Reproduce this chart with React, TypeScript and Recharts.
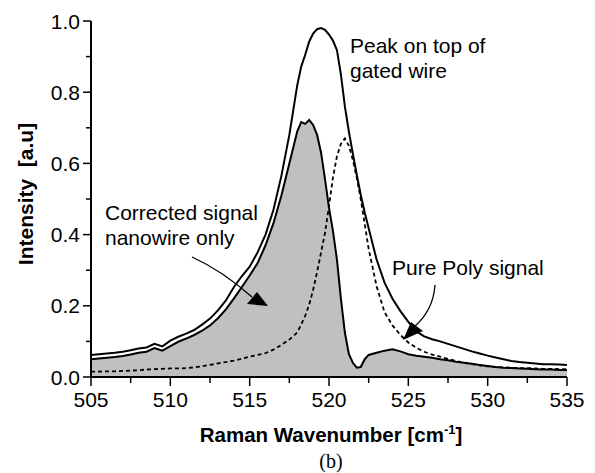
import React from 'react'
import { ComposedChart, Area, Line, XAxis, YAxis, Label } from 'recharts'

const wavenumber = [
  505, 505.5, 506, 506.5, 507, 507.5, 508, 508.5, 509, 509.5, 510, 510.5, 511, 511.5, 512, 512.5,
  513, 513.5, 514, 514.5, 515, 515.5, 516, 516.5, 517, 517.5, 518,
  518.25, 518.5, 518.75, 519, 519.25, 519.5, 519.75, 520, 520.25, 520.5, 520.75, 521, 521.25,
  521.5, 521.75, 522, 522.25, 522.5,
  523, 523.5, 524, 524.5, 525, 525.5, 526, 526.5, 527, 527.5, 528, 528.5, 529, 529.5, 530,
  530.5, 531, 531.5, 532, 532.5, 533, 533.5, 534, 534.5, 535,
]

// peak on top of gated wire
const gatedWire = [
  0.062, 0.064, 0.066, 0.068, 0.071, 0.075, 0.08, 0.083, 0.093, 0.086, 0.102, 0.113, 0.122, 0.132, 0.147, 0.164,
  0.187, 0.215, 0.252, 0.283, 0.31, 0.35, 0.4, 0.47, 0.565, 0.68, 0.82,
  0.872, 0.905, 0.942, 0.965, 0.977, 0.98, 0.975, 0.962, 0.945, 0.918, 0.85, 0.76, 0.69,
  0.628, 0.568, 0.512, 0.462, 0.418,
  0.33, 0.265, 0.22, 0.185, 0.155, 0.128, 0.114, 0.106, 0.1, 0.093, 0.086, 0.079, 0.072, 0.066, 0.06,
  0.055, 0.05, 0.045, 0.042, 0.04, 0.038, 0.036, 0.036, 0.035, 0.034,
]

// corrected signal, nanowire only
const nanowire = [
  0.05, 0.052, 0.054, 0.056, 0.059, 0.063, 0.068, 0.071, 0.081, 0.074, 0.087, 0.099, 0.108, 0.118, 0.13, 0.145,
  0.165, 0.19, 0.22, 0.252, 0.285, 0.32, 0.37, 0.432, 0.51, 0.6, 0.69,
  0.716, 0.711, 0.722, 0.708, 0.68, 0.63, 0.555, 0.475, 0.41, 0.33, 0.22, 0.125, 0.065,
  0.04, 0.026, 0.028, 0.05, 0.062,
  0.068, 0.074, 0.078, 0.072, 0.064, 0.06, 0.057, 0.054, 0.05, 0.047, 0.043, 0.04, 0.037, 0.034, 0.031,
  0.028, 0.026, 0.025, 0.024, 0.023, 0.022, 0.021, 0.021, 0.02, 0.02,
]

// pure poly signal
const purePoly = [
  0.015, 0.015, 0.016, 0.016, 0.017, 0.018, 0.019, 0.021, 0.022, 0.023, 0.024, 0.024, 0.025, 0.027, 0.03, 0.034,
  0.038, 0.042, 0.046, 0.051, 0.057, 0.062, 0.067, 0.077, 0.09, 0.105, 0.125,
  0.148, 0.172, 0.203, 0.245, 0.295, 0.35, 0.405, 0.48, 0.56, 0.62, 0.655, 0.67, 0.65,
  0.61, 0.56, 0.5, 0.43, 0.36,
  0.255, 0.182, 0.145, 0.118, 0.097, 0.082, 0.071, 0.063, 0.057, 0.051, 0.045, 0.04, 0.036, 0.033, 0.03,
  0.028, 0.027, 0.026, 0.025, 0.025, 0.024, 0.023, 0.023, 0.022, 0.022,
]

const xTicks = [505, 507.5, 510, 512.5, 515, 517.5, 520, 522.5, 525, 527.5, 530, 532.5, 535]
const yTicks = [0, 0.1, 0.2, 0.3, 0.4, 0.5, 0.6, 0.7, 0.8, 0.9, 1.0]

const rows = wavenumber.map((x, i) => ({
  x,
  gated: gatedWire[i],
  corrected: nanowire[i],
  poly: purePoly[i],
}))

const FONT = '"Liberation Sans", Arial, Helvetica, sans-serif'

function XTick(props: any) {
  const { x, y, payload } = props
  const v = payload.value
  const major = v % 5 === 0
  return (
    <g>
      <line x1={x} x2={x} y1={y} y2={y + (major ? 9 : 6)} stroke="#000" strokeWidth={1.5} />
      {major && (
        <text x={x} y={y + 30} textAnchor="middle" fontSize={21} fontFamily={FONT} fill="#000">
          {v}
        </text>
      )}
    </g>
  )
}

function YTick(props: any) {
  const { x, y, payload } = props
  const v = payload.value
  const major = Math.round(v * 10) % 2 === 0
  return (
    <g>
      <line x1={x} x2={x - (major ? 8 : 5)} y1={y} y2={y} stroke="#000" strokeWidth={1.5} />
      {major && (
        <text x={x - 11} y={y} dy="0.36em" textAnchor="end" fontSize={21} fontFamily={FONT} fill="#000">
          {v.toFixed(1)}
        </text>
      )}
    </g>
  )
}

function XTitle(props: any) {
  const { x, y, width } = props.viewBox
  return (
    <text x={x + width / 2 + 2} y={y + 65} textAnchor="middle" fontSize={20.5} fontWeight="bold" fontFamily={FONT} fill="#000">
      Raman Wavenumber [cm
      <tspan dy={-8} fontSize={13}>-1</tspan>
      <tspan dy={8}>]</tspan>
    </text>
  )
}

function YTitle(props: any) {
  const { x, y, height } = props.viewBox
  const cx = x + 33
  const cy = y + height / 2 - 5
  return (
    <text
      x={cx}
      y={cy}
      transform={`rotate(-90, ${cx}, ${cy})`}
      textAnchor="middle"
      fontSize={21}
      fontWeight="bold"
      fontFamily={FONT}
      fill="#000"
      style={{ whiteSpace: 'pre' }}
    >
      {'Intensity  [a.u]'}
    </text>
  )
}

export default function App() {
  return (
    <div style={{ position: 'absolute', left: 0, top: 0, width: 595, height: 473, background: '#fff' }}>
      <ComposedChart width={595} height={473} data={rows} margin={{ top: 21, right: 28, bottom: 0, left: 0 }}>
        <XAxis
          dataKey="x"
          type="number"
          domain={[505, 535]}
          ticks={xTicks}
          interval={0}
          height={96}
          tickSize={0}
          tickMargin={0}
          tickLine={false}
          axisLine={{ stroke: '#000', strokeWidth: 2 }}
          tick={(p: any) => <XTick {...p} />}
        >
          <Label content={XTitle} />
        </XAxis>
        <XAxis xAxisId="top" orientation="top" type="number" domain={[505, 535]} height={0} tick={false} tickLine={false} axisLine={{ stroke: '#000', strokeWidth: 2 }} />
        <YAxis
          type="number"
          domain={[0, 1]}
          ticks={yTicks}
          interval={0}
          width={91}
          tickSize={0}
          tickMargin={0}
          tickLine={false}
          axisLine={{ stroke: '#000', strokeWidth: 2 }}
          tick={(p: any) => <YTick {...p} />}
        >
          <Label content={YTitle} />
        </YAxis>
        <YAxis yAxisId="right" orientation="right" type="number" domain={[0, 1]} width={0} tick={false} tickLine={false} axisLine={{ stroke: '#000', strokeWidth: 2 }} />
        <Area
          dataKey="corrected"
          type="linear"
          fill="#c0c0c0"
          fillOpacity={1}
          stroke="#000"
          strokeWidth={2}
          dot={false}
          activeDot={false}
          isAnimationActive={false}
        />
        <Line dataKey="gated" type="linear" stroke="#000" strokeWidth={2} dot={false} activeDot={false} isAnimationActive={false} />
        <Line
          dataKey="poly"
          type="linear"
          stroke="#000"
          strokeWidth={1.8}
          strokeDasharray="4 3"
          dot={false}
          activeDot={false}
          isAnimationActive={false}
        />
      </ComposedChart>
      <svg width={595} height={473} style={{ position: 'absolute', left: 0, top: 0, pointerEvents: 'none' }}>
        <g fontFamily={FONT} fontSize={21} fill="#000">
          <text x={350} y={53}>Peak on top of</text>
          <text x={350} y={78}>gated wire</text>
          <text x={105} y={220}>Corrected signal</text>
          <text x={105} y={245}>nanowire only</text>
          <text x={392} y={275}>Pure Poly signal</text>
        </g>
        <path d="M192 257 C 214 267, 234 281, 252 297" fill="none" stroke="#000" strokeWidth={1.3} />
        <polygon points="247,304 257,292 268,306" fill="#000" />
        <path d="M435 285 C 434 300, 428 315, 414 327" fill="none" stroke="#000" strokeWidth={1.3} />
        <polygon points="403,340 411,322 423,331" fill="#000" />
        <text x={331} y={468} textAnchor="middle" fontSize={20} fontFamily='"Liberation Serif", "Times New Roman", serif' fill="#000">
          (b)
        </text>
      </svg>
    </div>
  )
}
